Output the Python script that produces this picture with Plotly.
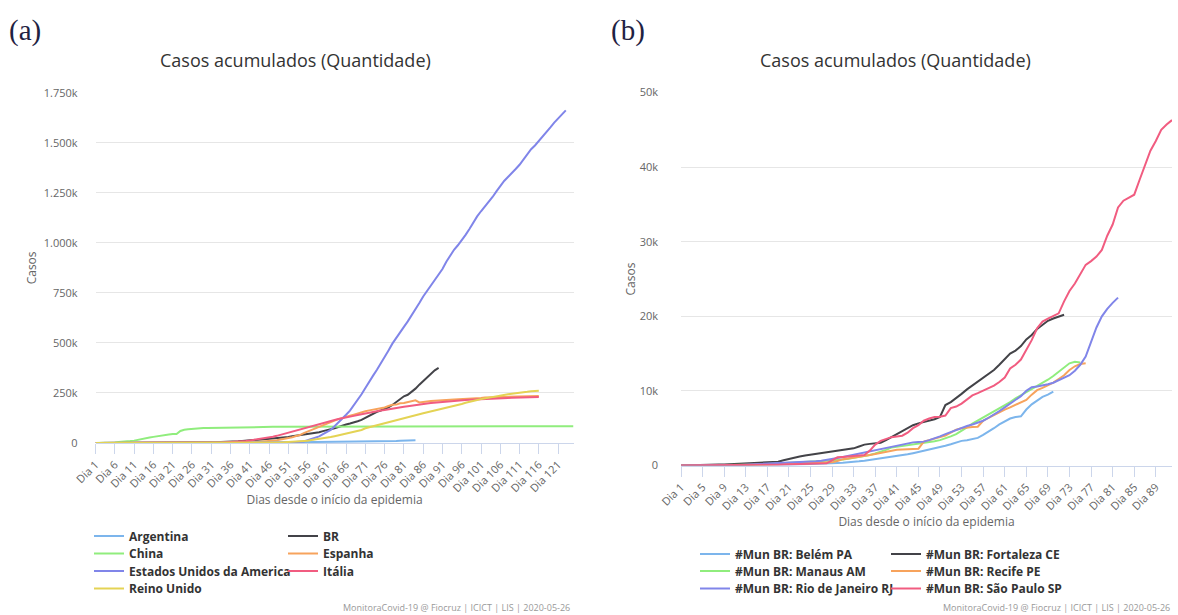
import plotly.graph_objects as go

W, H = 1178, 615
FONT = "Open Sans"

# ---------------- categories / tick labels ----------------
dias_a = [f"Dia {i}" for i in range(1, 126)]
ticks_a = [f"Dia {i}" for i in range(1, 126, 5)]
dias_b = [f"Dia {i}" for i in range(1, 93)]
ticks_b = [f"Dia {i}" for i in range(1, 93, 4)]

ytick_a_vals = [0, 250000, 500000, 750000, 1000000, 1250000, 1500000, 1750000]
ytick_a_text = ["0", "250k", "500k", "750k", "1.000k", "1.250k", "1.500k", "1.750k"]
ytick_b_vals = [0, 10000, 20000, 30000, 40000, 50000]
ytick_b_text = ["0", "10k", "20k", "30k", "40k", "50k"]

# ---------------- (a) countries ----------------
argentina = [1, 1, 2, 8, 12, 12, 17, 19, 19, 31, 34, 45, 56, 68, 79, 97, 128, 158, 266, 301,
             387, 387, 502, 589, 690, 745, 820, 1054, 1054,
             1133, 1265, 1451, 1451, 1554, 1628, 1715, 1795, 1975, 1975, 2142, 2208, 2277, 2443,
             2571, 2669, 2758, 2839, 2941, 3031, 3144, 3435, 3607, 3780, 3892, 4003, 4127, 4285,
             4428, 4532,
             4681, 4783, 4887, 5020, 5208, 5371, 5611, 5776, 6034, 6278, 6563, 6879, 7134, 7479,
             7805, 8068, 8371, 8809, 9283, 9931, 10649, 11353, 12076, 12628, 13228]

br = [1, 1, 1, 2,
      2, 2, 2, 4, 4, 13, 13, 20, 25, 31, 38, 52, 151, 151, 162, 200, 321, 372, 621, 793, 1021,
      1546, 1924, 2247, 2554, 2985, 3417, 3904, 4256, 4579, 5717,
      6836, 8044, 9056, 10360, 11130, 12161, 14034, 16170, 18092, 19638, 20727, 22192, 23430,
      25262, 28320, 30425, 33682, 36658, 38654, 40743, 43079, 45757, 50036, 54043, 59324, 63100,
      67446, 73235, 79685, 87187,
      92202, 97100, 101826, 108620, 115455, 126611, 135773, 146894, 156061, 162699, 169594,
      178214, 190137, 203165, 220291, 233511, 241080, 255368, 271628, 291579, 310087, 330890,
      347398, 363211, 374898]

china = [548, 643, 920, 1406, 2075, 2877, 5509, 6087, 8141, 9802,
         11891, 16630, 19716, 23707, 27440, 30587, 34110, 36814, 39829, 42354, 44386, 44759,
         59895, 66358, 68413, 70513, 72434, 74211, 74619, 75077, 75550, 77001, 77022, 77241,
         77754, 78166, 78600, 78928, 79356,
         79932, 80136, 80261, 80386, 80537, 80690, 80770, 80823, 80860, 80887, 80921, 80932,
         80945, 80977, 81003, 81033, 81058, 81102, 81156, 81250, 81305, 81435, 81498, 81591,
         81661, 81782, 81897, 81999, 82122, 82198, 82279,
         82361, 82432, 82511, 82543, 82602, 82665, 82718, 82809, 82883, 82941, 83014, 83134,
         83213, 83306, 83356, 83403, 83760, 83787, 83805, 83817, 83853, 83868, 83884, 83899,
         83909, 83912, 83918, 83940, 83944, 83956,
         83959, 83959, 83964, 83966, 83970, 83975, 83976, 83990, 83991, 83996, 84010, 84011,
         84018, 84024, 84029, 84038, 84044, 84054, 84063, 84063, 84081, 84084, 84095, 84102,
         84103]

espanha = [1,
           1, 1, 1, 1, 1, 1, 1, 1, 2, 2, 2, 2, 2, 2, 2, 2, 2, 2, 2, 2, 2, 2, 2, 2,
           6, 13, 15, 32, 45,
           84, 120, 165, 222, 259, 400, 500, 673, 1073, 1695, 2277, 3146, 5232, 6391, 7798,
           9942, 11748, 13910, 17963, 20410, 25374, 28603, 35136, 39885, 49515, 57786, 65719,
           73235, 80110, 87956, 95923,
           104118, 112065, 119199, 126168, 131646, 136675, 141942, 148220, 153222, 158273,
           163027, 166831, 170099, 172541, 177644, 184948, 190839, 191726, 198674, 200210,
           204178, 208389, 213024, 202990, 205905, 207634, 209465, 210773, 212917, 213435,
           215216, 216582, 217466, 218011, 219329, 220325, 221447, 222857, 223578, 224350,
           227436, 228030, 228691, 229540, 230183, 230698, 230698, 231350, 232037, 232555,
           233037, 234824, 235290, 235772, 235400]

eua = [2, 2, 5, 5, 5, 5, 5, 7,
       8, 8, 11, 11, 11, 11, 11, 11, 11, 11, 12, 12, 13, 13, 13, 13, 13, 13, 13, 13, 15, 15,
       15, 51, 51, 57, 58, 60, 68,
       74, 98, 118, 149, 217, 262, 402, 518, 583, 959, 1281, 1663, 2179, 2727, 3499, 4632,
       6421, 7786, 13680, 19101, 25493, 33276, 43847, 53740, 65778, 83836, 101657, 121465,
       140909, 161831, 188172,
       213242, 243622, 275367, 308650, 336802, 366317, 397121, 428654, 462780, 496535, 526396,
       555313, 580619, 607670, 636350, 667592, 699706, 732197, 759086, 784326, 811865, 840351,
       869170, 905358, 938154, 965785, 988197, 1012582, 1039909, 1069424,
       1103461, 1132539, 1158040, 1180375, 1204351, 1229331, 1257023, 1283929, 1309550,
       1329260, 1347881, 1369376, 1390406, 1417774, 1442824, 1467820, 1486757, 1508308,
       1528568, 1551853, 1577147, 1600937, 1622612, 1643246, 1662302]

italia = [2,
          2, 2, 2, 2, 2, 3, 3, 3, 3, 3, 3, 3, 3, 3, 3, 3, 3, 3, 3, 3,
          20, 62, 155, 229, 322, 453, 655, 888, 1128,
          1694, 2036, 2502, 3089, 3858, 4636, 5883, 7375, 9172, 10149, 12462, 15113, 17660,
          21157, 24747, 27980, 31506, 35713, 41035, 47021, 53578, 59138, 63927, 69176, 74386,
          80589, 86498, 92472, 97689, 101739, 105792,
          110574, 115242, 119827, 124632, 128948, 132547, 135586, 139422, 143626, 147577,
          152271, 156363, 159516, 162488, 165155, 168941, 172434, 175925, 178972, 181228,
          183957, 187327, 189973, 192994, 195351, 197675, 199414, 201505, 203591, 205463,
          207428, 209328, 210717, 211938, 213013, 214457, 215858, 217185, 218268, 219070,
          219814, 221216, 222104, 223096, 223885, 224760, 225435, 225886, 226699, 227364,
          228006, 228658, 229327, 229858, 230158]

reino_unido = [2,
               2, 2, 2, 2, 2, 3, 3, 3, 3, 8, 8, 9, 9, 9, 9, 9, 9, 9, 9, 9, 9, 9, 9, 9,
               13, 13, 15, 20, 23,
               36, 40, 51, 85, 115, 163, 206, 273, 321, 382, 456, 590, 798, 1140, 1140, 1543,
               1950, 2626, 2689, 3983, 5018, 5683, 6650, 8077, 9529, 11658, 14543, 17089, 19522,
               22141, 25150,
               29474, 33718, 38168, 41903, 47806, 51608, 55242, 60733, 65077, 73758, 78991,
               84279, 88621, 93873, 98476, 103093, 108692, 114217, 120067, 124743, 129044,
               133495, 138078, 143464, 148377, 152840, 157149, 161145, 165221, 171253,
               177454, 182260, 186599, 190584, 194990, 201101, 206715, 211364, 215260, 219183,
               223060, 226463, 229705, 233151, 236711, 240161, 243695, 246406, 248293, 248818,
               252246, 255544, 258504, 259559, 261184]

# ---------------- (b) municipalities ----------------
belem = [1, 1, 2, 3, 4, 6, 8, 10, 14, 18,
         22, 28, 34, 40, 48, 56, 65, 75, 85, 100,
         115, 130, 150, 170, 190, 210, 240, 270, 300, 340,
         380, 420, 470, 560, 650, 750, 850, 950, 1050, 1200,
         1300, 1400, 1500, 1650, 1800, 1950, 2100, 2250, 2450, 2650,
         2850, 3100, 3300, 3400, 3500, 3700, 4100, 4500, 5000, 5500,
         5900, 6300, 6500, 6600, 7500, 8200, 8700, 9200, 9500, 9900]

fortaleza = [5, 10, 15, 20, 40, 70, 100, 120, 150, 180,
             210, 240, 280, 320, 360, 400, 420, 470, 500, 700,
             900, 1050, 1200, 1350, 1450, 1550, 1650, 1750, 1850, 1950,
             2050, 2150, 2300, 2550, 2800, 2900, 2950, 3050, 3400, 3800,
             4200, 4700, 5100, 5400, 5650, 5800, 6000, 6200, 6500, 8100,
             8500, 9000, 9600, 10200, 10700, 11200, 11700, 12200, 12800, 13500,
             14300, 15000, 15400, 16000, 16900, 17500, 18300, 18900, 19400, 19700,
             20000, 20200]

manaus = [1, 1, 2, 3, 5, 10, 15, 25, 35, 45,
          55, 70, 90, 110, 140, 170, 200, 230, 260, 300,
          340, 380, 420, 460, 500, 540, 580, 620, 660, 700,
          800, 900, 1000, 1100, 1250, 1400, 1600, 1800, 2100, 2400,
          2500, 2550, 2650, 2750, 2850, 2950, 3100, 3250, 3400, 3600,
          3900, 4200, 4600, 5100, 5600, 6000, 6500, 6900, 7300, 7700,
          8100, 8500, 9000, 9400, 9800, 10200, 10600, 11000, 11500, 12000,
          12600, 13200, 13700, 13900, 13800]

recife = [2, 2, 3, 5, 8, 12, 15, 20, 25, 30,
          35, 45, 55, 65, 80, 95, 110, 130, 150, 170,
          190, 210, 230, 250, 280, 310, 340, 380, 420, 600,
          850, 950, 1050, 1150, 1250, 1400, 1550, 1700, 1850, 2000,
          2100, 2150, 2150, 2200, 2250, 3200, 3400, 3600, 3800, 4000,
          4400, 4800, 5000, 5100, 5150, 5200, 6000, 6400, 6800, 7100,
          7500, 7800, 8100, 8400, 8800, 9500, 10100, 10400, 10700, 11100,
          11600, 12100, 12800, 13300, 13600, 13700]

rio = [1, 2, 3, 5, 8, 13, 16, 20, 30, 40,
       60, 80, 110, 140, 170, 200, 230, 260, 300, 330,
       360, 400, 440, 480, 520, 580, 650, 750, 850, 1000,
       1150, 1300, 1450, 1600, 1800, 2000, 2100, 2250, 2400, 2500,
       2700, 2850, 3000, 3100, 3150, 3200, 3400, 3600, 3900, 4200,
       4500, 4800, 5100, 5300, 5500, 5700, 6000, 6400, 6800, 7300,
       7800, 8300, 8800, 9300, 10000, 10500, 10600, 10700, 10900, 11100,
       11400, 11700, 12100, 12700, 13500, 14600, 16500, 18500, 20000, 21000,
       21800, 22500]

sao_paulo = [1, 1, 1, 1, 1, 2, 2, 3, 3, 6,
             9, 13, 16, 19, 25, 40, 60, 80, 100, 130,
             150, 170, 190, 210, 230, 250, 270, 300,
             700, 1100, 1150, 1200, 1250, 1300, 1400, 2000, 2800, 3300,
             3600, 3800, 3900, 4000, 4400, 5000, 5400, 6000, 6300, 6500,
             6550, 6700, 7700, 7900, 8300, 8900, 9400, 9700, 10000, 10300,
             10700, 11200, 11800, 13000, 13500, 14200, 15500, 16800, 18400, 19300,
             19700, 20100, 20400, 22000, 23400, 24400, 25600, 26900, 27400, 28000,
             28900, 30800, 32300, 34600, 35500, 35900, 36300, 38300, 40300, 42200,
             43500, 45000, 45700, 46300]

series_a = [
    ("Argentina", argentina, "#7cb5ec", "legend"),
    ("BR", br, "#434348", "legend"),
    ("China", china, "#90ed7d", "legend2"),
    ("Espanha", espanha, "#f7a35c", "legend2"),
    ("Estados Unidos da America", eua, "#8085e9", "legend3"),
    ("Itália", italia, "#f15c80", "legend3"),
    ("Reino Unido", reino_unido, "#e4d354", "legend4"),
]
series_b = [
    ("#Mun BR: Belém PA", belem, "#7cb5ec", "legend5"),
    ("#Mun BR: Fortaleza CE", fortaleza, "#434348", "legend5"),
    ("#Mun BR: Manaus AM", manaus, "#90ed7d", "legend6"),
    ("#Mun BR: Recife PE", recife, "#f7a35c", "legend6"),
    ("#Mun BR: Rio de Janeiro RJ", rio, "#8085e9", "legend7"),
    ("#Mun BR: São Paulo SP", sao_paulo, "#f15c80", "legend7"),
]

fig = go.Figure()
for name, vals, color, leg in series_a:
    fig.add_trace(go.Scatter(x=dias_a[:len(vals)], y=vals, name=name, mode="lines",
                             line=dict(color=color, width=2), xaxis="x", yaxis="y",
                             legend=leg))
for name, vals, color, leg in series_b:
    fig.add_trace(go.Scatter(x=dias_b[:len(vals)], y=vals, name=name, mode="lines",
                             line=dict(color=color, width=2), xaxis="x2", yaxis="y2",
                             legend=leg))


def px(v):
    return v / W


def py(v):
    return 1 - v / H


xcommon = dict(type="category", showgrid=False, showline=True, linecolor="#ccd6eb",
               linewidth=1, ticks="outside", ticklen=10, tickcolor="#ccd6eb", tickwidth=1,
               tickangle=-45, tickfont=dict(family=FONT, size=11, color="#666666"),
               zeroline=False, fixedrange=True, automargin=False,
               title=dict(font=dict(family=FONT, size=12, color="#666666")))
ycommon = dict(showgrid=True, gridcolor="#e6e6e6", gridwidth=1, zeroline=False,
               showline=False, ticks="", tickfont=dict(family=FONT, size=11, color="#666666"),
               fixedrange=True, automargin=False,
               title=dict(font=dict(family=FONT, size=12, color="#666666")))

fig.update_layout(
    width=W, height=H,
    margin=dict(l=0, r=0, t=0, b=0, pad=0),
    paper_bgcolor="white", plot_bgcolor="white",
    font=dict(family=FONT, color="#333333"),
    xaxis=dict(xcommon, domain=[px(95.6), px(573.5)], anchor="y",
               categoryorder="array", categoryarray=dias_a, range=[0, len(dias_a) - 1],
               tickvals=ticks_a, ticktext=ticks_a,
               title=dict(xcommon["title"], text="Dias desde o início da epidemia", standoff=1)),
    yaxis=dict(ycommon, domain=[py(443), py(92.8)], anchor="x", range=[0, 1750000],
               tickvals=ytick_a_vals, ticktext=ytick_a_text, ticklabelstandoff=17,
               title=dict(ycommon["title"], text="Casos", standoff=4)),
    xaxis2=dict(xcommon, domain=[px(681), px(1172)], anchor="y2",
                categoryorder="array", categoryarray=dias_b, range=[0, len(dias_b) - 1],
                tickvals=ticks_b, ticktext=ticks_b,
                title=dict(xcommon["title"], text="Dias desde o início da epidemia", standoff=1)),
    yaxis2=dict(ycommon, domain=[py(465.5), py(92.5)], anchor="x2", range=[0, 50000],
                tickvals=ytick_b_vals, ticktext=ytick_b_text, ticklabelstandoff=22,
                title=dict(ycommon["title"], text="Casos", standoff=1)),
    showlegend=True,
)

leg_common = dict(orientation="h", xanchor="left", yanchor="middle",
                  bgcolor="rgba(0,0,0,0)", borderwidth=0, entrywidthmode="pixels",
                  font=dict(family=FONT, size=12, color="#333333", weight="bold"))
rows_a = [536, 553.5, 571, 588.5]
rows_b = [554, 571, 588.5]
for i, yy in enumerate(rows_a):
    key = "legend" if i == 0 else f"legend{i + 1}"
    fig.update_layout({key: dict(leg_common, x=px(89), y=py(yy), entrywidth=149)})
for i, yy in enumerate(rows_b):
    key = f"legend{i + 5}"
    fig.update_layout({key: dict(leg_common, x=px(695), y=py(yy), entrywidth=146)})

annots = [
    dict(text="(a)", x=px(7), y=py(30), xanchor="left", yanchor="middle",
         font=dict(family="Liberation Serif", size=29, color="#1f2242")),
    dict(text="(b)", x=px(609), y=py(30), xanchor="left", yanchor="middle",
         font=dict(family="Liberation Serif", size=29, color="#1f2242")),
    dict(text="Casos acumulados (Quantidade)", x=px(295), y=py(60), xanchor="center",
         yanchor="middle", font=dict(family=FONT, size=18, color="#333333")),
    dict(text="Casos acumulados (Quantidade)", x=px(895), y=py(60), xanchor="center",
         yanchor="middle", font=dict(family=FONT, size=18, color="#333333")),
    dict(text="MonitoraCovid-19 @ Fiocruz | ICICT | LIS | 2020-05-26", x=px(572), y=py(607),
         xanchor="right", yanchor="middle", font=dict(family=FONT, size=9, color="#999999")),
    dict(text="MonitoraCovid-19 @ Fiocruz | ICICT | LIS | 2020-05-26", x=px(1172), y=py(607),
         xanchor="right", yanchor="middle", font=dict(family=FONT, size=9, color="#999999")),
]
for a in annots:
    a.update(xref="paper", yref="paper", showarrow=False)
fig.update_layout(annotations=annots)

fig.write_html("out.html", config={"displayModeBar": False},
               post_script="document.body.style.margin='0';document.body.style.overflow='hidden';")
